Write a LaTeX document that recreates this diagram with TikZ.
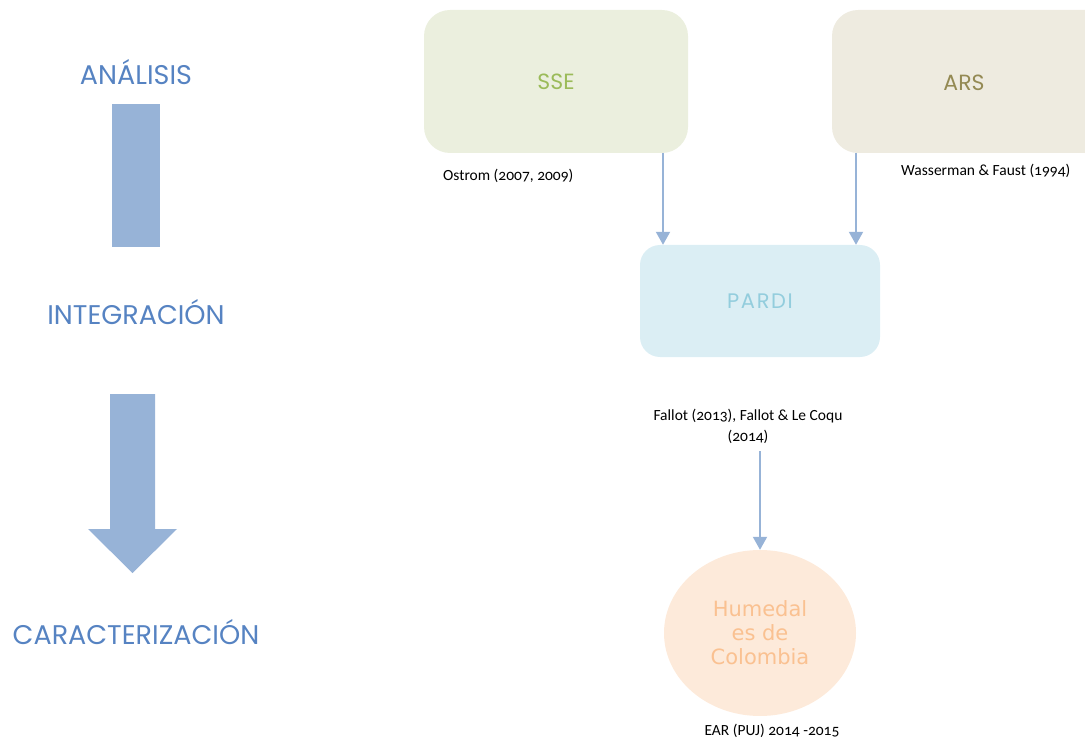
\documentclass[tikz,border=0pt]{standalone}
\usepackage{fontspec}
\setmainfont{Poppins}
\newfontfamily\citefont[Numbers=OldStyle]{Carlito}
\newfontfamily\roundfont{DejaVu Sans}
\usetikzlibrary{arrows.meta,shapes.geometric}

\definecolor{stageblue}{HTML}{5683C2}
\definecolor{barblue}{HTML}{97B3D7}
\definecolor{sseFill}{HTML}{EBEFDE}
\definecolor{sseText}{HTML}{9BBB59}
\definecolor{arsFill}{HTML}{EEEBE0}
\definecolor{arsText}{HTML}{948A54}
\definecolor{pardiFill}{HTML}{DBEEF4}
\definecolor{pardiText}{HTML}{93CDDD}
\definecolor{humFill}{HTML}{FDEADA}
\definecolor{humText}{HTML}{FAC191}

\tikzset{
  stage/.style={text=stageblue, font=\fontsize{27}{31}\selectfont, inner sep=0pt},
  concept/.style={rounded corners=26pt, minimum height=143pt, inner sep=0pt},
  cite/.style={font=\citefont\fontsize{15.5}{21}\selectfont, text=black, inner sep=0pt, align=center},
  conn/.style={draw=barblue, line width=2pt, -{Triangle[width=14pt,length=13pt]}},
}

\begin{document}
\begin{tikzpicture}[x=1pt,y=-1pt]
  \useasboundingbox (0,0) rectangle (1085,738);

  % left column: stages of the method
  \node[stage] (analisis) at (136,72) {ANÁLISIS};
  \node[fill=barblue, minimum width=48pt, minimum height=143pt, inner sep=0pt] (bar) at (136,175.5) {};
  \node[stage] (integracion) at (136,312) {INTEGRACIÓN};
  \fill[barblue] (110,394) -- (155,394) -- (155,529) -- (177,529) -- (132.5,573)
      -- (88,529) -- (110,529) -- cycle;
  \node[stage] (caracterizacion) at (136,632) {CARACTERIZACIÓN};

  % frameworks
  \node[concept, fill=sseFill, minimum width=264pt] (sse) at (556,81.5)
      {\fontsize{22}{26}\selectfont\color{sseText}SSE};
  \node[concept, fill=arsFill, minimum width=290pt] (ars) at (977,81.5)
      {};
  \node[text=arsText, font=\fontsize{22}{26}\selectfont, inner sep=0pt] (arslabel) at (964,83) {ARS};
  \node[cite, anchor=west] (ostrom) at (443,176) {Ostrom (2007, 2009)};
  \node[cite, anchor=west] (wasserman) at (901,171) {Wasserman \& Faust (1994)};

  \node[concept, fill=pardiFill, minimum width=240pt, minimum height=112pt, rounded corners=20pt] (pardi) at (760,301)
      {\fontsize{21}{24}\selectfont\addfontfeatures{LetterSpace=8}\color{pardiText}PARDI};
  \node[cite] (fallot) at (748,426) {Fallot (2013), Fallot \& Le Coqu\\(2014)};

  \node[ellipse, fill=humFill, minimum width=192pt, minimum height=166pt, inner sep=0pt] (hum) at (760,633) {};
  \node[text=humText, font=\roundfont\fontsize{21}{24}\selectfont, align=center, inner sep=0pt] (humlabel) at (760,633)
      {Humedal\\es de\\Colombia};
  \node[cite] (ear) at (772,731) {EAR (PUJ) 2014 -2015};

  % connectors
  \coordinate (xs) at (663,0);
  \coordinate (xa) at (856,0);
  \draw[conn] (sse.south -| xs) -- (pardi.north -| xs);
  \draw[conn] (ars.south -| xa) -- (pardi.north -| xa);
  \draw[conn] ([yshift=-8pt]fallot.south -| hum.north) -- (hum.north);
\end{tikzpicture}
\end{document}
